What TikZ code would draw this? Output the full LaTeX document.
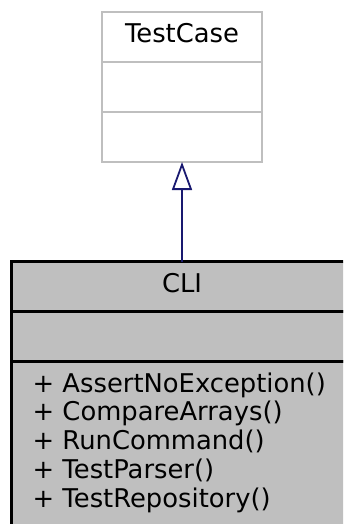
\documentclass[tikz,border=0pt]{standalone}
\usepackage{fontspec}
\setmainfont{DejaVu Sans}
\usetikzlibrary{arrows.meta,positioning}
\definecolor{cellgrey}{HTML}{BFBFBF}
\definecolor{edgeblue}{HTML}{191970}
\begin{document}
\begin{tikzpicture}[x=1pt,y=-1pt,
    cell/.style={rectangle,outer sep=0pt,inner sep=0pt,minimum height=50pt,
        font=\fontsize{25.8}{29}\selectfont,text height=18pt,text depth=6pt},
    basecell/.style={cell,draw=cellgrey,line width=2pt,fill=white,minimum width=160pt},
    maincell/.style={cell,draw=black,line width=2.5pt,fill=cellgrey,minimum width=340.6pt}]
    \useasboundingbox (0,0) rectangle (343,524);
    \clip (0,0) rectangle (343,524);
    \node[basecell] (tctitle) at (182,37) {TestCase};
    \node[basecell,below=0pt of tctitle] (tcattr) {};
    \node[basecell,below=0pt of tcattr] (tcops) {};
    \node[maincell] (clititle) at (182,286.7) {CLI};
    \node[maincell,below=0pt of clititle] (cliattr) {};
    \node[maincell,below=0pt of cliattr,minimum height=170pt] (cliops) {};
    \foreach \f [count=\i from 0] in {AssertNoException,CompareArrays,RunCommand,TestParser,TestRepository}
        \node[anchor=base west,inner sep=0pt,font=\fontsize{25.8}{29}\selectfont] (op\i) at (32.5,392+28.8*\i) {+ \f()};
    \draw[draw=edgeblue,line width=1.8pt,-{Triangle[open,length=28pt,width=20pt]}] (clititle) -- (tcops);
\end{tikzpicture}
\end{document}
